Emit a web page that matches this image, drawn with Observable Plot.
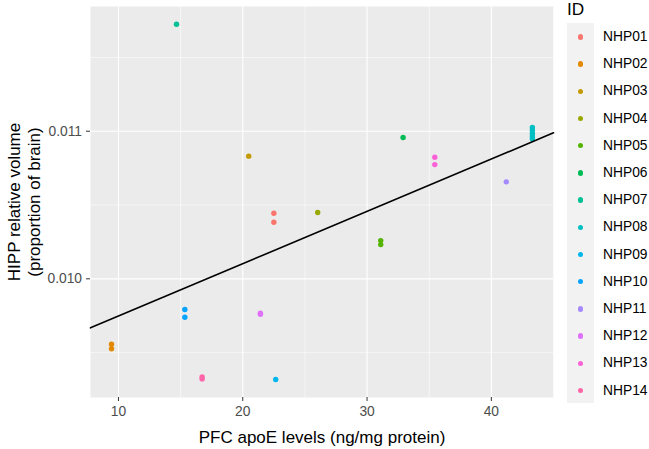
<!DOCTYPE html>
<html>
<head>
<meta charset="utf-8">
<script src="https://cdn.jsdelivr.net/npm/d3@7"></script>
<script src="https://cdn.jsdelivr.net/npm/@observablehq/plot@0.6"></script>
<style>
  html, body { margin: 0; padding: 0; background: #fff; }
  #wrap { position: relative; width: 649px; height: 449px; font-family: "Liberation Sans", Arial, sans-serif; }
  #legend { position: absolute; left: 567px; top: 0; }
  #legend .title { position: absolute; left: 0; top: 0; font-size: 17.2px; color: #000; line-height: 19px; }
  #legend .keys { position: absolute; left: 0; top: 23px; width: 27px; background: #F2F2F2; }
  #legend .row { position: absolute; left: 0; width: 82px; height: 27.7px; }
  #legend .dot { position: absolute; left: 10.8px; width: 5.4px; height: 5.4px; border-radius: 50%; top: 11.2px; }
  #legend .lab { position: absolute; left: 36px; top: 0; line-height: 27.7px; font-size: 13.8px; color: #000; white-space: nowrap; }
</style>
</head>
<body>
<div id="wrap"></div>
<script>
// Observations
const ids = ["NHP01","NHP01","NHP02","NHP02","NHP03","NHP04","NHP05","NHP05","NHP06","NHP07",
             "NHP08","NHP08","NHP08","NHP08","NHP08","NHP09","NHP10","NHP10","NHP11","NHP12","NHP12",
             "NHP13","NHP13","NHP14","NHP14"];
const apoE = [22.5,22.5,9.44,9.44,20.48,26.03,31.1,31.1,32.9,14.67,
              43.3,43.3,43.3,43.3,43.3,22.65,15.34,15.34,41.2,21.42,21.42,
              35.45,35.45,16.73,16.73];
const hipp = [0.010444,0.010383,0.009557,0.009526,0.010831,0.010449,0.010259,0.010232,0.010957,0.011725,
              0.011025,0.011005,0.010984,0.010964,0.010947,0.009318,0.009792,0.009740,0.010657,0.009767,0.009760,
              0.010824,0.010774,0.009335,0.009322];

// Legend categories and palette
const levels = ["NHP01","NHP02","NHP03","NHP04","NHP05","NHP06","NHP07","NHP08","NHP09","NHP10","NHP11","NHP12","NHP13","NHP14"];
const palette = ["#F8766D","#E38900","#C49A00","#99A800","#53B400","#00BC56","#00C094","#00BFC4","#00B6EB","#06A4FF","#A58AFF","#DF70F8","#FB61D7","#FF66A8"];

// Fitted line (endpoints at panel edges)
const fitX = [7.75, 45.0];
const fitY = [0.009668, 0.010989];

// Axis ticks
const xTicks = [10, 20, 30, 40];
const xMinor = [15, 25, 35, 45];
const yTicks = [0.010, 0.011];
const yMinor = [0.0095, 0.0105, 0.0115];

const pts = ids.map((id, i) => ({id, x: apoE[i], y: hipp[i]}));
const fit = fitX.map((x, i) => ({x, y: fitY[i]}));

const plot = Plot.plot({
  width: 649,
  height: 449,
  marginLeft: 90,
  marginRight: 96,
  marginTop: 6,
  marginBottom: 52,
  style: {fontFamily: "'Liberation Sans', Arial, sans-serif", background: "transparent"},
  x: {domain: [7.75, 45.0]},
  y: {domain: [0.009196, 0.011845]},
  color: {domain: levels, range: palette},
  marks: [
    Plot.frame({fill: "#EBEBEB", stroke: null}),
    Plot.gridX(xMinor, {stroke: "#fff", strokeOpacity: 1, strokeWidth: 0.55}),
    Plot.gridY(yMinor, {stroke: "#fff", strokeOpacity: 1, strokeWidth: 0.55}),
    Plot.gridX(xTicks, {stroke: "#fff", strokeOpacity: 1, strokeWidth: 1.1}),
    Plot.gridY(yTicks, {stroke: "#fff", strokeOpacity: 1, strokeWidth: 1.1}),
    Plot.axisX(xTicks, {tickSize: 4, tickPadding: 5, stroke: "#333333", fill: "#4D4D4D", fontSize: 13.8, label: null}),
    Plot.axisY(yTicks, {tickSize: 4, tickPadding: 4.5, stroke: "#333333", fill: "#4D4D4D", fontSize: 13.8, label: null, tickFormat: d3.format(".3f")}),
    Plot.dot(pts, {x: "x", y: "y", fill: "id", r: 2.7, stroke: null}),
    Plot.line(fit, {x: "x", y: "y", stroke: "#000", strokeWidth: 1.6}),
    Plot.text(["PFC apoE levels (ng/mg protein)"], {frameAnchor: "bottom", lineAnchor: "middle", textAnchor: "middle", dy: 40, fontSize: 17, fill: "#000", text: d => d}),
    Plot.text(["HIPP relative volume\n(proportion of brain)"], {frameAnchor: "left", textAnchor: "middle", lineAnchor: "middle", dx: -67, rotate: -90, fontSize: 17, lineHeight: 1.17, fill: "#000", text: d => d})
  ]
});

const wrap = document.getElementById("wrap");
wrap.appendChild(plot);

// Legend
const leg = document.createElement("div");
leg.id = "legend";
const t = document.createElement("div");
t.className = "title";
t.textContent = "ID";
leg.appendChild(t);
const keys = document.createElement("div");
keys.className = "keys";
keys.style.height = (levels.length * 27.15) + "px";
leg.appendChild(keys);
levels.forEach((lv, i) => {
  const row = document.createElement("div");
  row.className = "row";
  row.style.top = (23 + i * 27.2) + "px";
  const d = document.createElement("div");
  d.className = "dot";
  d.style.background = palette[i];
  const l = document.createElement("div");
  l.className = "lab";
  l.textContent = lv;
  row.appendChild(d);
  row.appendChild(l);
  leg.appendChild(row);
});
wrap.appendChild(leg);
</script>
</body>
</html>
